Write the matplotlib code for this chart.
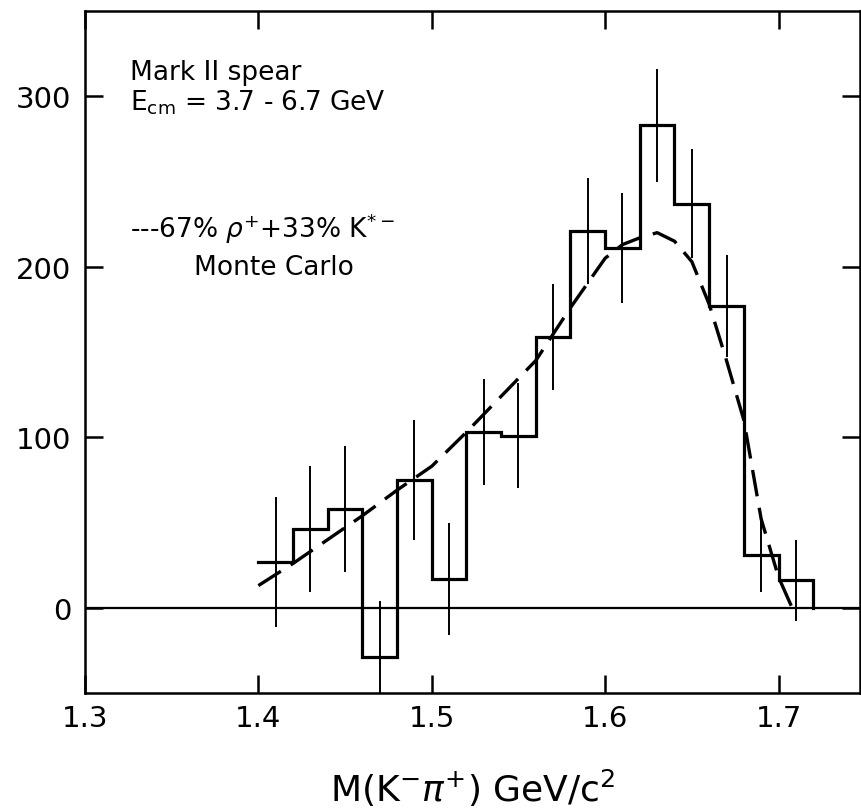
import numpy as np
import matplotlib.pyplot as plt

# histogram bins (GeV/c^2) and contents
bin_edges = [1.40, 1.42, 1.44, 1.46, 1.48, 1.50, 1.52, 1.54, 1.56,
             1.58, 1.60, 1.62, 1.64, 1.66, 1.68, 1.70, 1.72]
counts = [27, 46, 58, -29, 75, 17, 103, 101, 159, 221, 211, 283, 237, 177, 31, 16]
errors = [38, 37, 37, 33, 35, 33, 31, 31, 31, 31, 32, 33, 32, 30, 22, 24]

# Monte Carlo curve (67% rho+ + 33% K*-)
mc_mass = [1.40, 1.42, 1.44, 1.46, 1.48, 1.50, 1.52, 1.54, 1.56, 1.58, 1.60,
           1.61, 1.62, 1.63, 1.64, 1.65, 1.66, 1.67, 1.68, 1.69, 1.70, 1.71]
mc_counts = [13, 26, 40, 54, 69, 83, 103, 124, 145, 176, 205,
             213, 217, 220, 215, 203, 178, 145, 110, 52, 18, -5]

x_ticks = [1.3, 1.4, 1.5, 1.6, 1.7]
y_ticks = [0, 100, 200, 300]

plt.rcParams['font.family'] = ['DejaVu Sans']

fig = plt.figure(figsize=(8.62, 8.12), dpi=100)
ax = fig.add_axes([0.0986, 0.1453, 0.8991, 0.8399])

edges = np.array(bin_edges)
vals = np.array(counts)
centers = (edges[:-1] + edges[1:]) / 2

# step outline: horizontal tops joined by verticals, drop to zero at the end
xs = np.repeat(edges, 2)[1:-1]
ys = np.repeat(vals, 2)
xs = np.append(xs, edges[-1])
ys = np.append(ys, 0)
ax.plot(xs, ys, color='black', lw=2.3, solid_joinstyle='miter')

ax.errorbar(centers, vals, yerr=errors, fmt='none', ecolor='black',
            elinewidth=1.4, capsize=0)

ax.plot(mc_mass, mc_counts, color='black', lw=2.4, dashes=(8, 3.5))

ax.axhline(0, color='black', lw=1.6)

ax.set_xlim(1.3, 1.747)
ax.set_ylim(-50, 350)
ax.set_xticks(x_ticks)
ax.set_yticks(y_ticks)
ax.set_xticklabels(['1.3', '1.4', '1.5', '1.6', '1.7'])
ax.tick_params(direction='in', length=13, width=1.8, labelsize=21,
               top=True, right=True, pad=8)
ax.tick_params(axis='y', pad=10)
for s in ax.spines.values():
    s.set_linewidth(1.8)

ax.set_xlabel(r'M(K$^{-}\pi^{+}$) GeV/c$^{2}$', fontsize=26, labelpad=25)

ax.text(1.326, 314, 'Mark II spear', fontsize=19, va='center')
ax.text(1.326, 297, r'E$_{\rm cm}$ = 3.7 - 6.7 GeV', fontsize=19, va='center')
ax.text(1.326, 223, r'---67% $\rho^{+}$+33% K$^{*-}$', fontsize=19, va='center')
ax.text(1.363, 200, 'Monte Carlo', fontsize=19, va='center')

fig.savefig('out.png', dpi=100)
